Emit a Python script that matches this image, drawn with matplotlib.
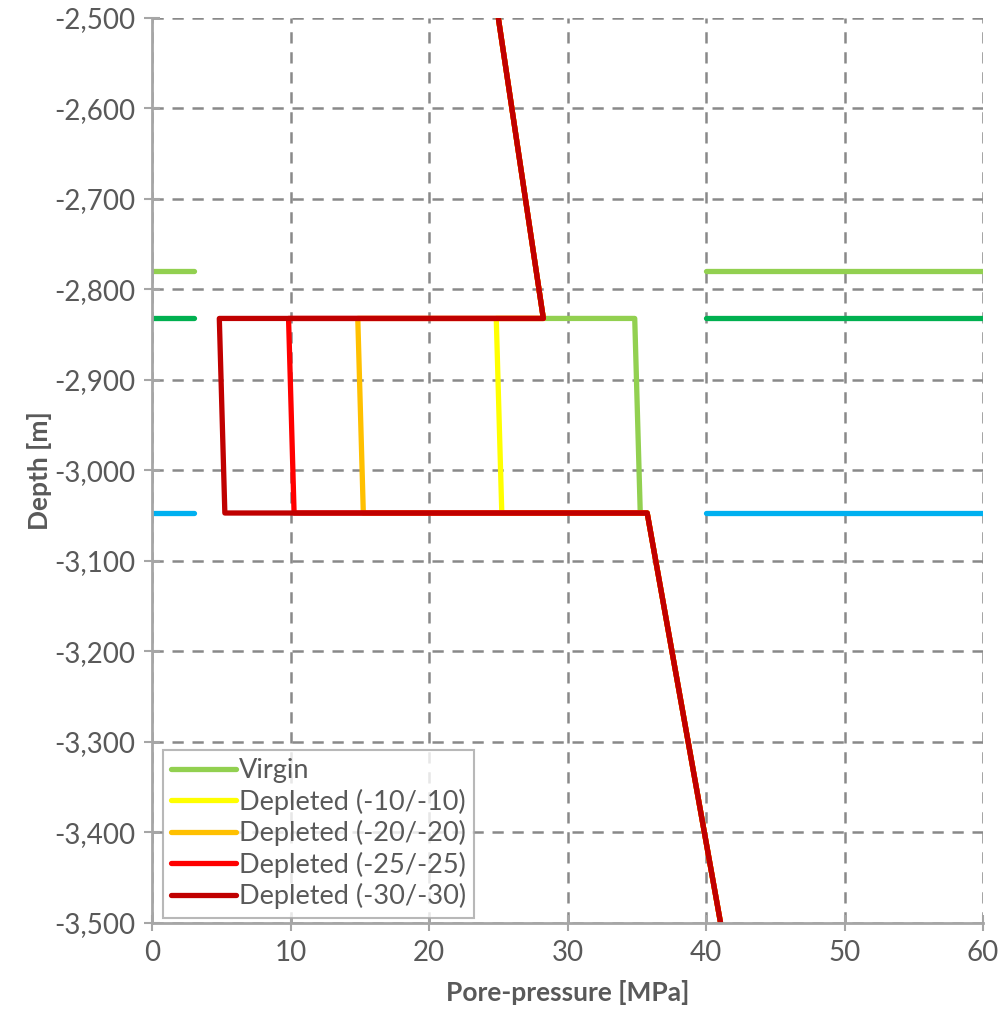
import matplotlib.pyplot as plt
from matplotlib.ticker import FuncFormatter

plt.rcParams['font.family'] = ['Lato', 'DejaVu Sans']

# pressure profiles: overburden gradient, reservoir top/base, underburden gradient
depth = [-2500, -2832, -2832, -3047, -3047, -3500]
virgin = [25.0, 28.25, 34.85, 35.25, 35.75, 41.05]
depletion = [10, 20, 25, 30]
depleted_labels = ["Depleted (-10/-10)", "Depleted (-20/-20)",
                   "Depleted (-25/-25)", "Depleted (-30/-30)"]
depleted_colors = ["#FFFF00", "#FFC000", "#FF0000", "#C00000"]

# horizon markers drawn at the sides of the plot
horizon_depths = [-2780, -2832, -3047]
horizon_colors = ["#92D050", "#00B050", "#00B0F0"]

text_color = "#595959"
grid_color = "#898989"

fig = plt.figure(figsize=(10.01, 10.22), dpi=100)
ax = fig.add_axes([0.152, 0.0969, 0.830, 0.8855])

for d, c in zip(horizon_depths, horizon_colors):
    ax.plot([0, 3], [d, d], color=c, lw=3.8, solid_capstyle="round")
    ax.plot([40, 60], [d, d], color=c, lw=3.8, solid_capstyle="round")

ax.plot(virgin, depth, color="#92D050", lw=3.8, label="Virgin",
        solid_capstyle="round", solid_joinstyle="round")
for dp, lab, c in zip(depletion, depleted_labels, depleted_colors):
    xs = [virgin[0], virgin[1], virgin[2] - dp, virgin[3] - dp, virgin[4], virgin[5]]
    ax.plot(xs, depth, color=c, lw=3.8, label=lab,
            solid_capstyle="round", solid_joinstyle="round")

ax.set_xlim(0, 60)
ax.set_ylim(-3500, -2500)
ax.set_xticks(range(0, 61, 10))
ax.set_yticks(range(-3500, -2499, 100))
ax.yaxis.set_major_formatter(FuncFormatter(lambda v, p: f"{int(v):,}"))

ax.grid(True, color=grid_color, lw=1.8, linestyle=(0, (4.5, 3.5)))
ax.set_axisbelow(True)
for s in ["top", "right"]:
    ax.spines[s].set_visible(False)
for s in ["left", "bottom"]:
    ax.spines[s].set_color("#A6A6A6")
    ax.spines[s].set_linewidth(2)
ax.tick_params(direction="inout", length=12, width=1.5, color="#A6A6A6",
               labelsize=20, labelcolor=text_color, pad=6)

ax.set_xlabel("Pore-pressure [MPa]", fontsize=19, color=text_color,
              fontweight="bold", labelpad=10)
ax.set_ylabel("Depth [m]", fontsize=19, color=text_color,
              fontweight="bold", labelpad=2)

leg = ax.legend(loc="lower left", bbox_to_anchor=(0.013, 0.006), fontsize=19.5,
                frameon=True, fancybox=False, handlelength=2.4,
                handletextpad=0.1, labelspacing=0.2, borderpad=0.3,
                borderaxespad=0)
leg.get_frame().set_edgecolor("#A6A6A6")
leg.get_frame().set_linewidth(1.5)
for t in leg.get_texts():
    t.set_color(text_color)

fig.savefig("out.png", dpi=100)
